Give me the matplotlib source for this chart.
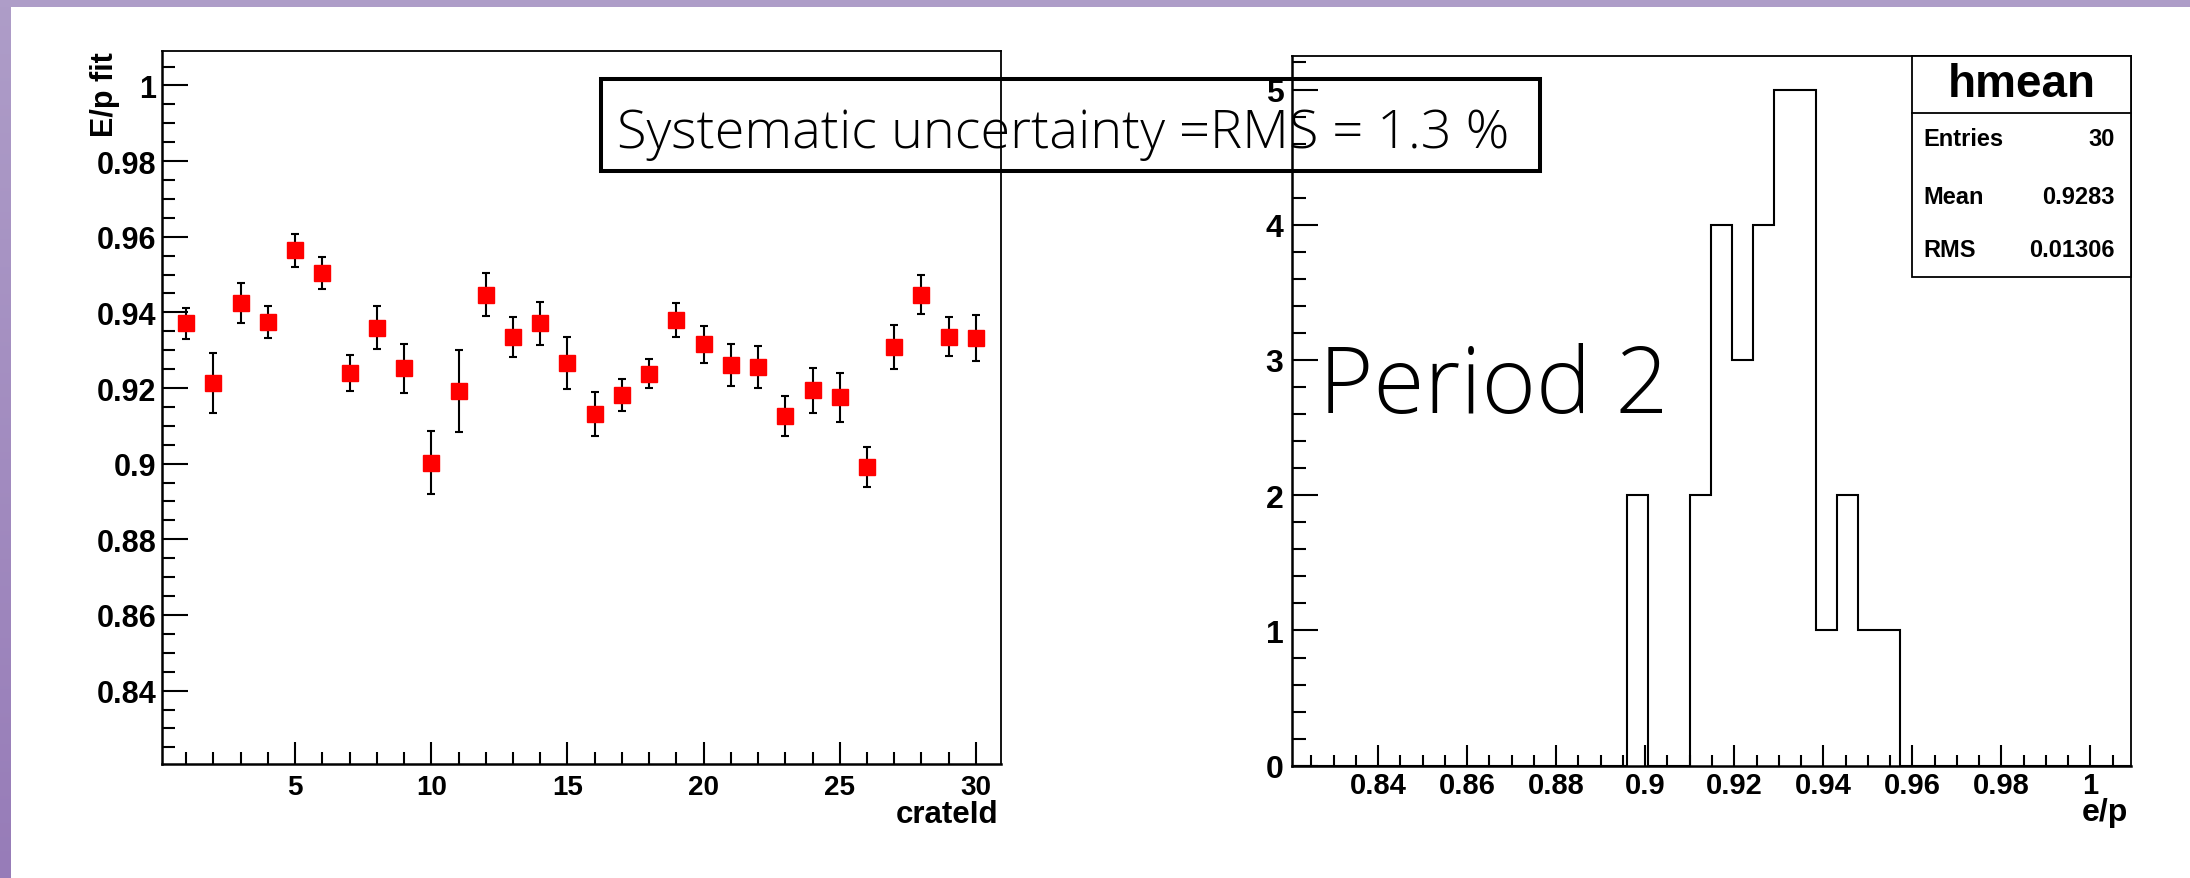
import numpy as np
import matplotlib
matplotlib.use('Agg')
import matplotlib.pyplot as plt
from matplotlib.ticker import MultipleLocator, FuncFormatter
from matplotlib.patches import Rectangle
from matplotlib.colors import LinearSegmentedColormap

# E/p fit per crate
crate_id = np.arange(1, 31)
ep_fit = [0.9371, 0.9213, 0.9425, 0.9375, 0.9564, 0.9504, 0.9240, 0.9360, 0.9252, 0.9003,
          0.9193, 0.9447, 0.9335, 0.9371, 0.9266, 0.9131, 0.9182, 0.9238, 0.9380, 0.9316,
          0.9261, 0.9256, 0.9127, 0.9194, 0.9175, 0.8992, 0.9309, 0.9447, 0.9336, 0.9333]
ep_err = [0.0041, 0.0080, 0.0053, 0.0042, 0.0044, 0.0042, 0.0047, 0.0058, 0.0064, 0.0083,
          0.0108, 0.0056, 0.0053, 0.0056, 0.0069, 0.0058, 0.0043, 0.0039, 0.0045, 0.0049,
          0.0055, 0.0055, 0.0053, 0.0059, 0.0066, 0.0053, 0.0058, 0.0051, 0.0051, 0.0061]

# hmean histogram settings and stats box
hist_range = (0.8206, 1.0091)
n_bins = 40
hist_name = 'hmean'
stats_rows = [('Entries', '30'), ('Mean', '0.9283'), ('RMS', '0.01306')]

syst_text = 'Systematic uncertainty =RMS = 1.3 %'
period_text = 'Period 2'

plt.rcParams['font.family'] = ['Liberation Sans', 'DejaVu Sans']
plt.rcParams['font.weight'] = 'bold'
light = ['Open Sans', 'DejaVu Sans']

W, H = 2190, 879
fig = plt.figure(figsize=(W / 100, H / 100), dpi=100)
fmt = FuncFormatter(lambda v, p: '%g' % round(v, 4))

# ---- left: E/p fit vs crateId ----
ax1 = fig.add_axes([162 / W, (H - 765) / H, 839 / W, 713 / H])
ax1.errorbar(crate_id, ep_fit, yerr=ep_err, fmt='s', color='red', ms=12, mec='red',
             ecolor='black', elinewidth=1.5, capsize=3, capthick=1.5, zorder=3)
ax1.set_xlim(0.11, 30.92)
ax1.set_ylim(0.8206, 1.0091)
ax1.xaxis.set_major_locator(MultipleLocator(5))
ax1.xaxis.set_minor_locator(MultipleLocator(1))
ax1.yaxis.set_major_locator(MultipleLocator(0.02))
ax1.yaxis.set_minor_locator(MultipleLocator(0.005))
ax1.yaxis.set_major_formatter(fmt)
ax1.tick_params(which='both', direction='in', top=False, right=False, width=1.5)
ax1.tick_params(axis='y', which='major', length=18.5, labelsize=22, pad=4)
ax1.tick_params(axis='y', which='minor', length=9.5)
ax1.tick_params(axis='x', which='major', length=16, labelsize=20, pad=7)
ax1.tick_params(axis='x', which='minor', length=8.5)
ax1.text(-0.068, 1.0, 'E/p fit', rotation=90, ha='center', va='top', fontsize=22,
         transform=ax1.transAxes)
ax1.text(0.997, -0.0813, 'crateId', ha='right', va='baseline', fontsize=22.5,
         transform=ax1.transAxes)

# ---- right: hmean histogram ----
ax2 = fig.add_axes([1291.7 / W, (H - 766.7) / H, 839.3 / W, 710 / H])
counts, edges = np.histogram(ep_fit, bins=n_bins, range=hist_range)
ax2.stairs(counts, edges, color='black', lw=1.5, baseline=0)
ax2.set_xlim(*hist_range)
ax2.set_ylim(0, counts.max() * 1.05)
ax2.xaxis.set_major_locator(MultipleLocator(0.02))
ax2.xaxis.set_minor_locator(MultipleLocator(0.005))
ax2.xaxis.set_major_formatter(fmt)
ax2.yaxis.set_major_locator(MultipleLocator(1))
ax2.yaxis.set_minor_locator(MultipleLocator(0.2))
ax2.tick_params(which='both', direction='in', top=False, right=False, width=1.5)
ax2.tick_params(axis='y', which='major', length=18.5, labelsize=23, pad=6)
ax2.tick_params(axis='y', which='minor', length=10)
ax2.tick_params(axis='x', which='major', length=15, labelsize=21, pad=4)
ax2.tick_params(axis='x', which='minor', length=8)
ax2.text(0.996, -0.0765, 'e/p', ha='right', va='baseline', fontsize=23,
         transform=ax2.transAxes)

for ax in (ax1, ax2):
    for side in ('left', 'bottom'):
        ax.spines[side].set_linewidth(1.8)
    for side in ('top', 'right'):
        ax.spines[side].set_linewidth(1.3)

# stats box
bx0, by0, by_div = 0.7394, 0.6887, 0.9189
ax2.add_patch(Rectangle((bx0, by0), 1 - bx0, 1 - by0, transform=ax2.transAxes,
                        facecolor='white', edgecolor='black', lw=1.3, zorder=5, clip_on=False))
ax2.plot([bx0, 1], [by_div, by_div], transform=ax2.transAxes, color='black', lw=1.3,
         zorder=6, clip_on=False)
ax2.text((bx0 + 1) / 2, 0.9601, hist_name, ha='center', va='center', fontsize=33,
         transform=ax2.transAxes, zorder=7)
for (name, val), yy in zip(stats_rows, [0.8827, 0.8023, 0.7277]):
    ax2.text(0.7522, yy, name, ha='left', va='center', fontsize=17,
             transform=ax2.transAxes, zorder=7)
    ax2.text(0.9809, yy, val, ha='right', va='center', fontsize=17,
             transform=ax2.transAxes, zorder=7)

# annotation box spanning both pads
fig.add_artist(Rectangle((601 / W, 1 - 172 / H), (1540 - 601) / W, 92 / H,
                         transform=fig.transFigure, fill=False, ec='black', lw=2.9, zorder=10))
fig.text(617 / W, 1 - 148 / H, syst_text, family=light, weight='light', fontsize=39,
         ha='left', va='baseline', zorder=11)
fig.text(1319 / W, 1 - 413 / H, period_text, family=light, weight='light', fontsize=67,
         ha='left', va='baseline', zorder=11)

# slide frame
fig.add_artist(Rectangle((0, 1 - 8 / H), 1, 8 / H, transform=fig.transFigure,
                         color='#ae9dc8', lw=0, zorder=20))
band = fig.add_axes([0, 0, 11 / W, 1])
band.imshow(np.linspace(0, 1, 256)[:, None], aspect='auto',
            cmap=LinearSegmentedColormap.from_list('frame', ['#ae9dc8', '#977cb8']))
band.axis('off')

fig.savefig('out.png', dpi=100)
